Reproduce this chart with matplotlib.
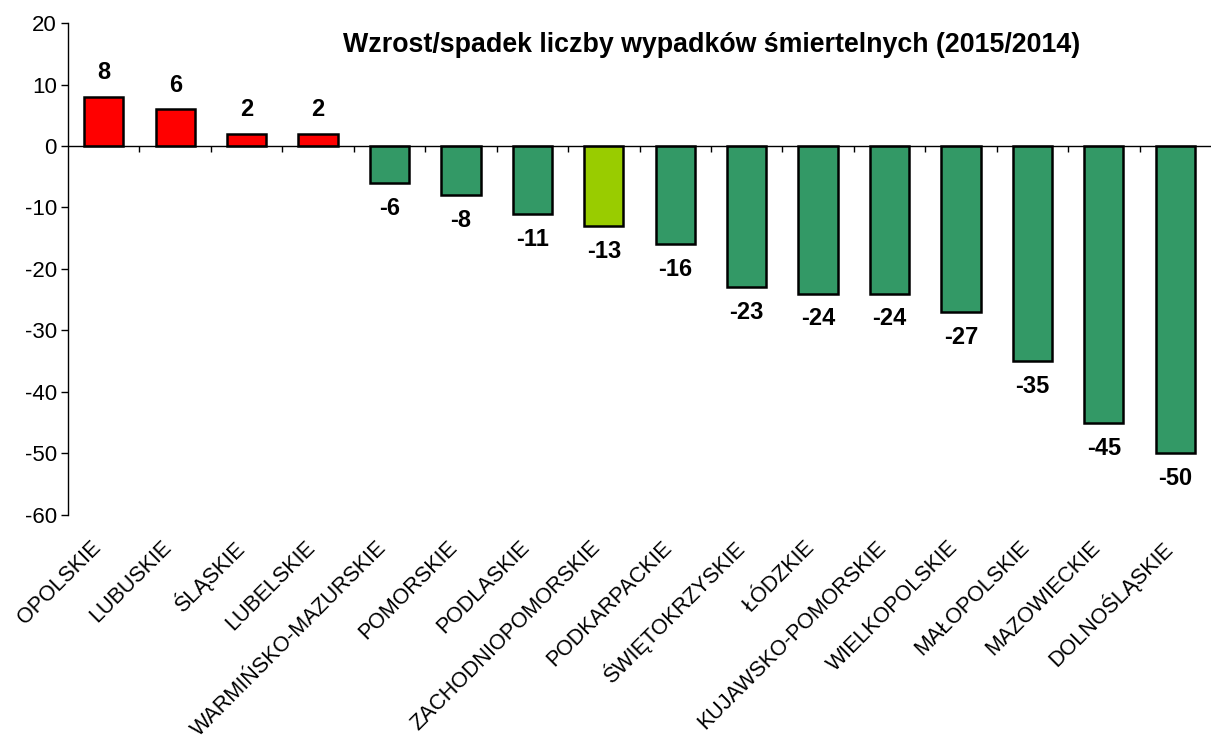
import numpy as np
import matplotlib.pyplot as plt
from matplotlib import transforms

plt.rcParams['font.family'] = ['Liberation Sans', 'DejaVu Sans']
plt.rcParams['axes.unicode_minus'] = False

# województwa i zmiana liczby wypadków śmiertelnych 2015 vs 2014
regiony = ["OPOLSKIE", "LUBUSKIE", "ŚLĄSKIE", "LUBELSKIE", "WARMIŃSKO-MAZURSKIE",
           "POMORSKIE", "PODLASKIE", "ZACHODNIOPOMORSKIE", "PODKARPACKIE",
           "ŚWIĘTOKRZYSKIE", "ŁÓDZKIE", "KUJAWSKO-POMORSKIE", "WIELKOPOLSKIE",
           "MAŁOPOLSKIE", "MAZOWIECKIE", "DOLNOŚLĄSKIE"]
zmiana = [8, 6, 2, 2, -6, -8, -11, -13, -16, -23, -24, -24, -27, -35, -45, -50]
wyrozniony = "ZACHODNIOPOMORSKIE"

kolory = []
for r, v in zip(regiony, zmiana):
    if r == wyrozniony:
        kolory.append("#99CC00")
    elif v > 0:
        kolory.append("#FF0000")
    else:
        kolory.append("#339966")

fig = plt.figure(figsize=(12.11, 7.47), dpi=100)
ax = fig.add_axes([0.0562, 0.3106, 0.9438, 0.6586])

x = np.arange(len(regiony))
ax.bar(x, zmiana, width=0.55, color=kolory, edgecolor="black", linewidth=1.8, zorder=3)

ax.set_xlim(-0.5, len(regiony) - 0.5)
ax.set_ylim(-60, 20)
ax.set_yticks(np.arange(-60, 21, 10))
ax.tick_params(axis="y", labelsize=16, length=5, width=1, direction="out", pad=3)

for s in ["top", "right", "bottom"]:
    ax.spines[s].set_visible(False)
ax.spines["left"].set_linewidth(1)

# linia zera z kreskami między kategoriami
ax.axhline(0, color="black", linewidth=1, zorder=4)
ax.set_xticks([])
granice = np.arange(0.5, len(regiony) - 0.5, 1.0)
ax.plot(granice, np.zeros_like(granice), linestyle="none", marker=3, markersize=4,
        markeredgewidth=1, color="black", clip_on=False, zorder=4)

# etykiety wartości
for xi, v in zip(x, zmiana):
    if v >= 0:
        ax.annotate(str(v), (xi, v), xytext=(0, 9), textcoords="offset points",
                    ha="center", va="bottom", fontsize=17, fontweight="bold")
    else:
        ax.annotate(str(v), (xi, v), xytext=(0, -10), textcoords="offset points",
                    ha="center", va="top", fontsize=17, fontweight="bold")

# podpisy kategorii pod osią
tr = transforms.blended_transform_factory(ax.transData, ax.transAxes)
for xi, r in zip(x, regiony):
    ax.text(xi - 0.09, -0.06, r, transform=tr, rotation=45, rotation_mode="anchor",
            ha="right", va="center", fontsize=15.5)

ax.text(0.5634, 0.941, "Wzrost/spadek liczby wypadków śmiertelnych (2015/2014)",
        transform=ax.transAxes, ha="center", va="baseline", fontsize=19.3, fontweight="bold")

fig.savefig("out.png", dpi=100)
